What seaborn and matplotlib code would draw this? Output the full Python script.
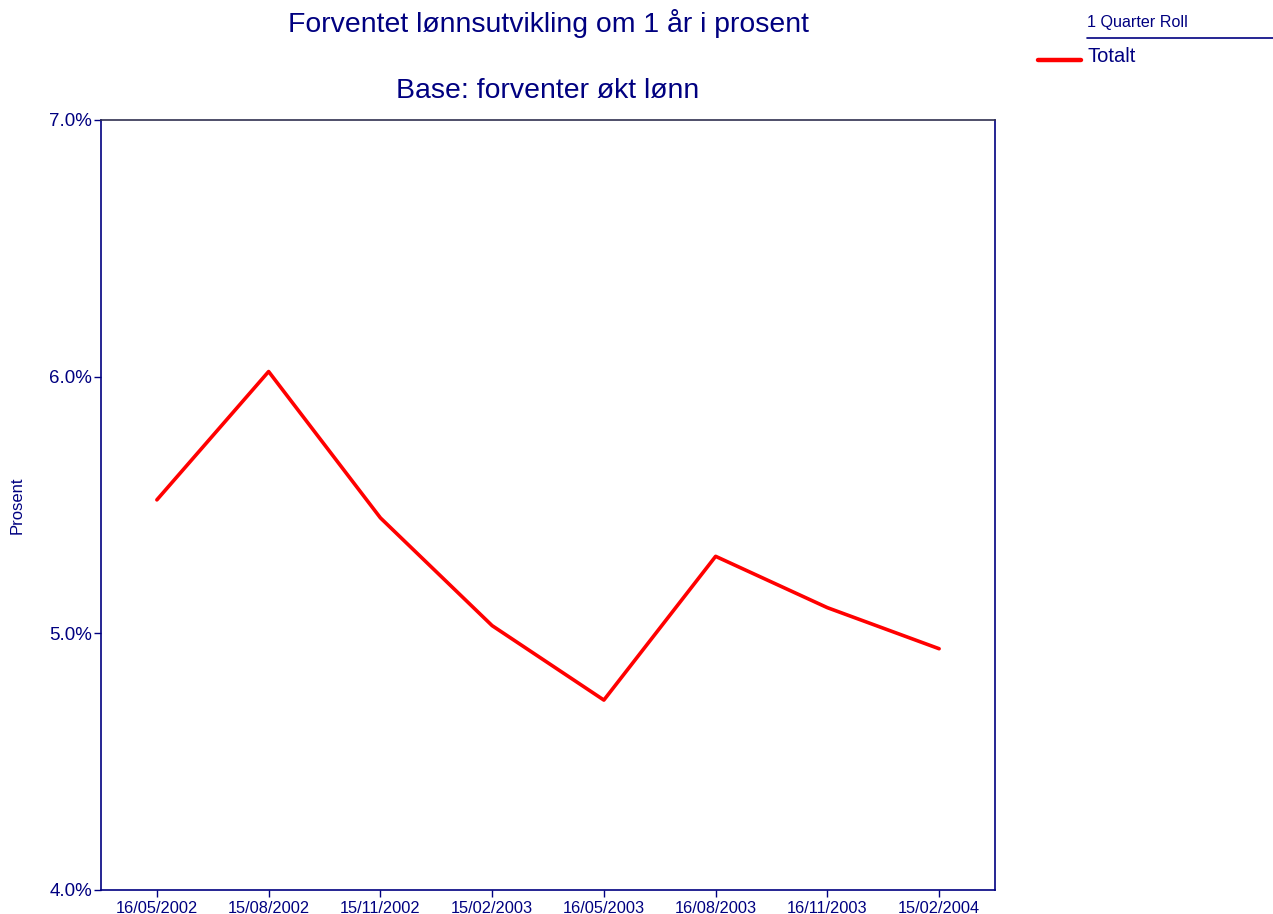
import matplotlib
matplotlib.use("Agg")
import matplotlib.pyplot as plt
from matplotlib.lines import Line2D
from matplotlib.ticker import FuncFormatter, FixedLocator
import seaborn as sns
import pandas as pd

# Survey dates and expected wage growth (percent)
dates = ["16/05/2002", "15/08/2002", "15/11/2002", "15/02/2003",
         "16/05/2003", "16/08/2003", "16/11/2003", "15/02/2004"]
totalt = [5.52, 6.02, 5.45, 5.03, 4.74, 5.30, 5.10, 4.94]
y_ticks = [4.0, 5.0, 6.0, 7.0]

title = "Forventet lønnsutvikling om 1 år i prosent"
subtitle = "Base: forventer økt lønn"
series_name = "Totalt"
legend_title = "1 Quarter Roll"
y_label = "Prosent"

navy = "#000080"
red = "#ff0000"

sns.set_theme(style="white")
plt.rcParams["font.family"] = ["Liberation Sans", "DejaVu Sans"]

df = pd.DataFrame({"dato": dates, "prosent": totalt})

fig = plt.figure(figsize=(12.73, 9.14), dpi=100)
ax = fig.add_axes([101 / 1273, 1 - 890 / 914, 894 / 1273, 770 / 914])

sns.lineplot(data=df, x="dato", y="prosent", ax=ax, color=red, linewidth=2.6,
             sort=False, solid_capstyle="round", solid_joinstyle="round")

ax.set_xlim(-0.5, len(dates) - 0.5)
ax.set_ylim(y_ticks[0], y_ticks[-1])
ax.yaxis.set_major_locator(FixedLocator(y_ticks))
ax.yaxis.set_major_formatter(FuncFormatter(lambda v, _: f"{v:.1f}%"))

ax.tick_params(axis="x", colors=navy, labelsize=11.8, length=5, width=1,
               direction="out", bottom=True, pad=3)
ax.tick_params(axis="y", colors=navy, labelsize=13.5, length=5, width=1,
               direction="out", left=True, pad=1.5)
for lbl in ax.get_xticklabels() + ax.get_yticklabels():
    lbl.set_color(navy)

for side, sp in ax.spines.items():
    sp.set_visible(True)
    sp.set_color(navy)
    sp.set_linewidth(1.2)
ax.spines["top"].set_color("#303050")

ax.set_xlabel("")
ax.set_ylabel(y_label, color=navy, fontsize=12, labelpad=0)
ax.yaxis.set_label_coords(-76 / 894, 0.5)

fig.text(548 / 1273, 1 - 23 / 914, title, ha="center", va="center",
         color=navy, fontsize=20.4)
fig.text(548 / 1273, 1 - 91 / 914, subtitle, ha="center", va="center",
         color=navy, fontsize=20.4)

# Legend block in the top-right corner
fig.text(1087 / 1273, 1 - 23 / 914, legend_title, ha="left", va="center",
         color=navy, fontsize=11.6)
fig.add_artist(Line2D([1087 / 1273, 1.0], [1 - 38 / 914, 1 - 38 / 914],
                      color=navy, linewidth=1.2, transform=fig.transFigure))
fig.add_artist(Line2D([1038 / 1273, 1081 / 1273], [1 - 60 / 914, 1 - 60 / 914],
                      color=red, linewidth=3.2, solid_capstyle="round",
                      transform=fig.transFigure))
fig.text(1087 / 1273, 1 - 56 / 914, series_name, ha="left", va="center",
         color=navy, fontsize=14.5)

fig.savefig("out.png", dpi=100, facecolor="white")
